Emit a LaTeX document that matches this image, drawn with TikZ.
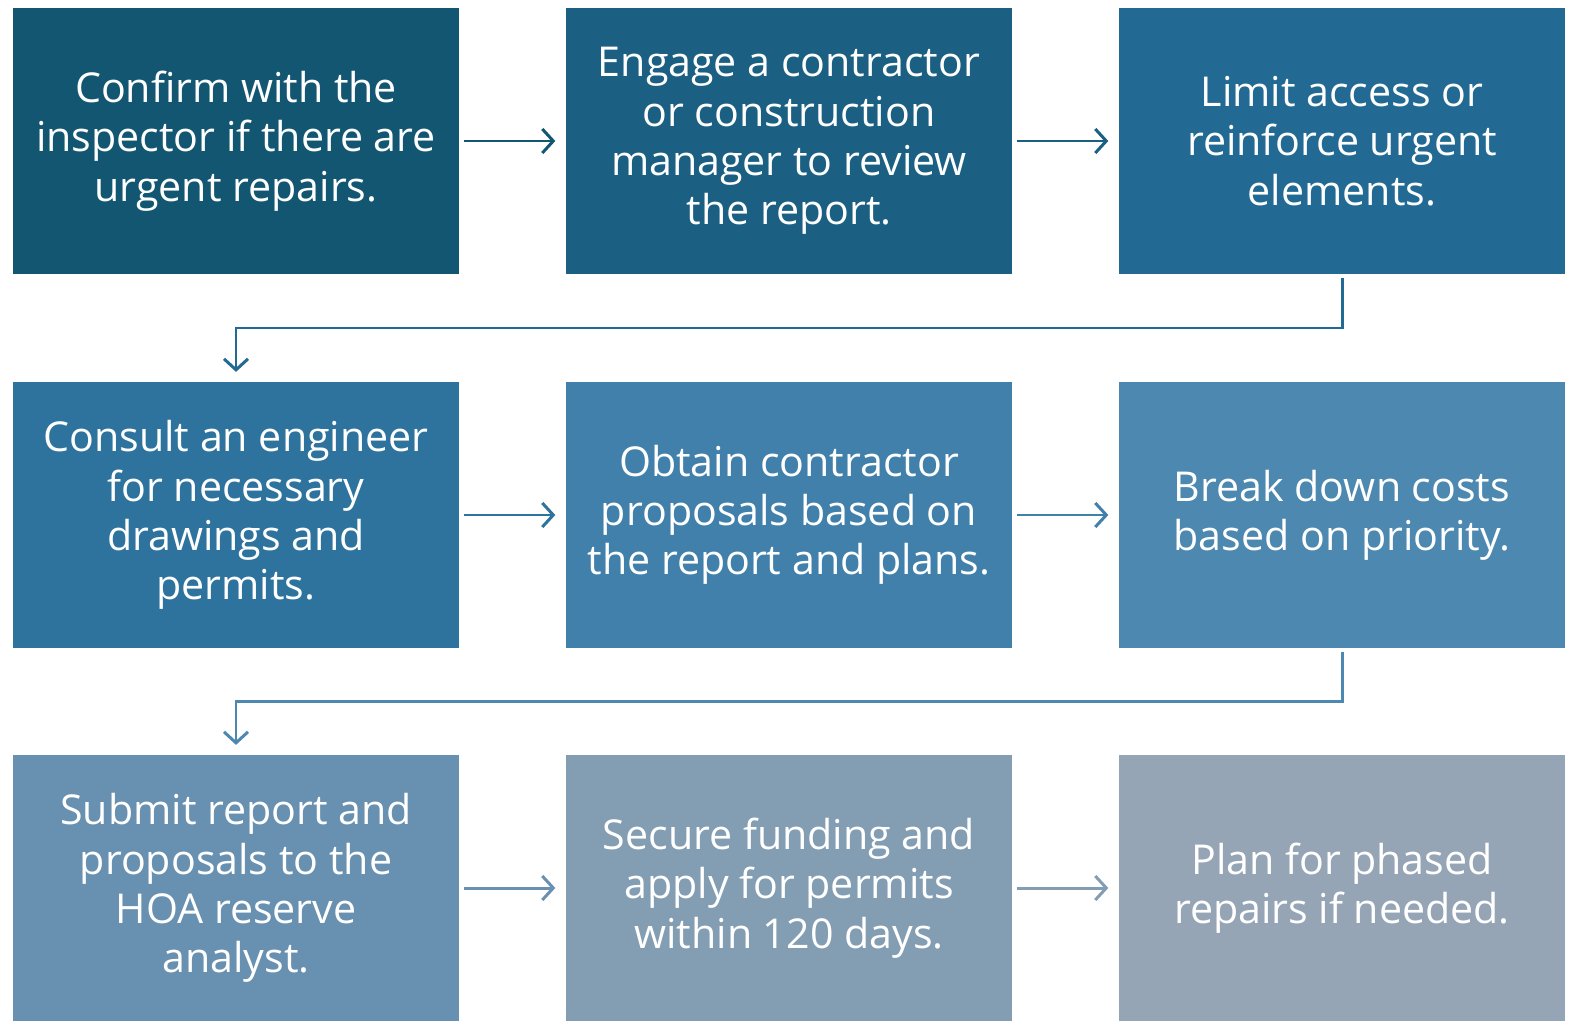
\documentclass[tikz,border=0pt]{standalone}
\usepackage{fontspec}
\setmainfont{Open Sans}
\usetikzlibrary{arrows.meta,positioning}

\definecolor{stepA}{HTML}{135672}
\definecolor{stepB}{HTML}{1B5F82}
\definecolor{stepC}{HTML}{226A94}
\definecolor{stepD}{HTML}{2E739E}
\definecolor{stepE}{HTML}{4180AB}
\definecolor{stepF}{HTML}{4D88B0}
\definecolor{stepG}{HTML}{6890B0}
\definecolor{stepH}{HTML}{839DB3}
\definecolor{stepI}{HTML}{95A5B5}

\tikzset{
  stepbox/.style={fill=#1, text=white, minimum width=4.46cm, minimum height=2.65cm,
    inner sep=0pt, align=center, font=\fontsize{11.7}{14}\selectfont},
  flow/.style={draw=#1, line width=0.85pt,
    -{Straight Barb[length=1.1mm, width=2.4mm, line width=0.85pt]}},
}

\begin{document}
\begin{tikzpicture}[x=0.01cm, y=-0.01cm]
\useasboundingbox (0,0) rectangle (1575,1024);

% first row
\node[stepbox=stepA] (s1) at (236,141) {Confirm with the\\inspector if there are\\urgent repairs.};
\node[stepbox=stepB] (s2) at (789,141) {Engage a contractor\\or construction\\manager to review\\the report.};
\node[stepbox=stepC] (s3) at (1342,141) {Limit access or\\reinforce urgent\\elements.};

% second row
\node[stepbox=stepD] (s4) at (236,515) {Consult an engineer\\for necessary\\drawings and\\permits.};
\node[stepbox=stepE] (s5) at (789,515) {Obtain contractor\\proposals based on\\the report and plans.};
\node[stepbox=stepF] (s6) at (1342,515) {Break down costs\\based on priority.};

% third row
\node[stepbox=stepG] (s7) at (236,888) {Submit report and\\proposals to the\\HOA reserve\\analyst.};
\node[stepbox=stepH] (s8) at (789,888) {Secure funding and\\apply for permits\\within 120 days.};
\node[stepbox=stepI] (s9) at (1342,888) {Plan for phased\\repairs if needed.};

\coordinate (turn1) at (236,328);
\coordinate (turn2) at (236,701);

\draw[flow=stepA] ([xshift=1.1pt]s1.east) -- ([xshift=-2.8pt]s2.west);
\draw[flow=stepB] ([xshift=1.1pt]s2.east) -- ([xshift=-2.8pt]s3.west);
\draw[flow=stepC] ([yshift=-1.1pt]s3.south) |- (turn1) -- ([yshift=2.8pt]s4.north);
\draw[flow=stepD] ([xshift=1.1pt]s4.east) -- ([xshift=-2.8pt]s5.west);
\draw[flow=stepE] ([xshift=1.1pt]s5.east) -- ([xshift=-2.8pt]s6.west);
\draw[flow=stepF] ([yshift=-1.1pt]s6.south) |- (turn2) -- ([yshift=2.8pt]s7.north);
\draw[flow=stepG] ([xshift=1.1pt]s7.east) -- ([xshift=-2.8pt]s8.west);
\draw[flow=stepH] ([xshift=1.1pt]s8.east) -- ([xshift=-2.8pt]s9.west);
\end{tikzpicture}
\end{document}
